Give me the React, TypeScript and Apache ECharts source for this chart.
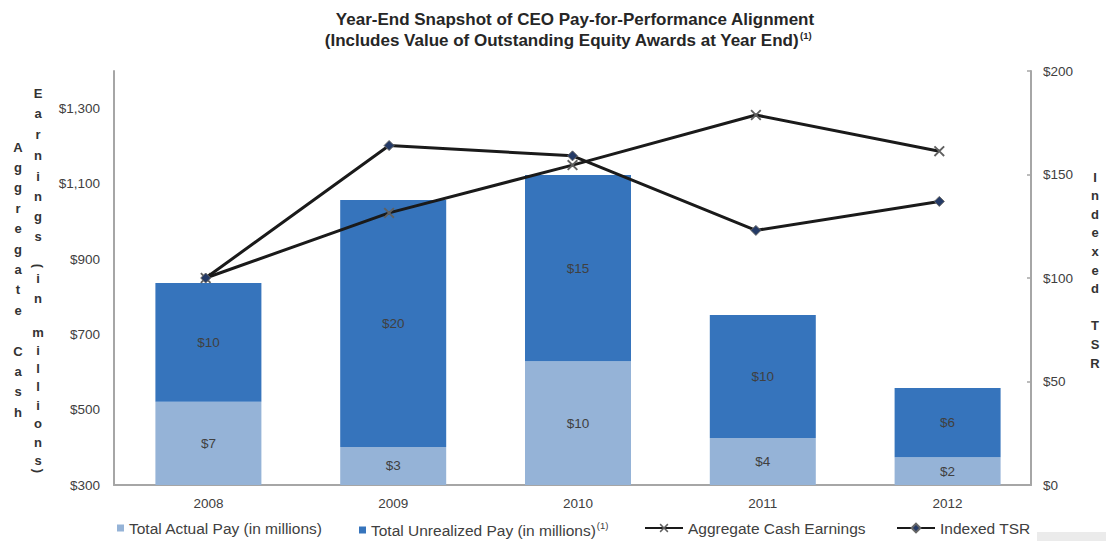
import React, { useEffect, useRef } from "react";
import * as echarts from "echarts";

const years = ["2008", "2009", "2010", "2011", "2012"];
// bar segment heights in left-axis units (the bars sit on the $300 baseline)
const actualPayHeight = [221, 101, 329, 125, 74];
const unrealizedPayHeight = [316, 656, 495, 327, 184];
const actualPayLabels = ["$7", "$3", "$10", "$4", "$2"];
const unrealizedPayLabels = ["$10", "$20", "$15", "$10", "$6"];
const cashEarnings = [850, 1023, 1150, 1283, 1187];
const indexedTSR = [100, 164, 159, 123, 137];

const FONT = '"Liberation Sans", Arial, sans-serif';
const GRAY_AXIS = "#a6a6a6";
const TXT = "#404040";

const crossPath =
  "path://M0,1.2 L1.2,0 L5,3.8 L8.8,0 L10,1.2 L6.2,5 L10,8.8 L8.8,10 L5,6.2 L1.2,10 L0,8.8 L3.8,5 Z";

function vertChars(chars: string[], ys: number[], x: number) {
  return chars.map((c, i) => ({
    type: "text",
    x,
    y: ys[i],
    rotation: c === "(" || c === ")" ? -Math.PI / 2 : 0,
    style: {
      text: c,
      fontFamily: FONT,
      fontSize: 13,
      fontWeight: "bold",
      fill: "#333333",
      align: "center",
      verticalAlign: "middle",
      textAlign: "center",
      textVerticalAlign: "middle",
    },
  }));
}

export default function App() {
  const ref = useRef<HTMLDivElement>(null);
  useEffect(() => {
    if (!ref.current) return;
    const chart = echarts.init(ref.current, undefined, { renderer: "svg" });

    const col1 = "Aggregate Cash".split("");
    const col1Y = col1.map((_, i) => 147 + i * 20.4);
    const col2 = "Earnings(in millions)".split("");
    const col2Y = [93, 113, 134, 155, 176, 196, 216, 236, 266, 278, 298, 315, 332, 350, 368, 386, 405, 423, 442, 460, 471];
    const col3 = "Indexed TSR".split("");
    const col3Y = col3.map((_, i) => 177 + i * 18.6);

    const legendText = { color: TXT, fontSize: 15.5, fontFamily: FONT };

    chart.setOption({
      animation: false,
      backgroundColor: "#ffffff",
      grid: [
        { left: 116, top: 71, width: 924, height: 414, containLabel: false, outerBoundsMode: "none" },
        { left: 114, top: 71, width: 917, height: 414, containLabel: false, outerBoundsMode: "none" },
      ],
      xAxis: [
        {
          type: "category",
          gridIndex: 0,
          data: years,
          axisLine: { show: false },
          axisTick: { show: false },
          axisLabel: { color: TXT, fontSize: 13.5, fontFamily: FONT, margin: 11 },
        },
        {
          type: "category",
          gridIndex: 1,
          data: years,
          axisLine: { show: true, lineStyle: { color: GRAY_AXIS, width: 2 } },
          axisTick: { show: false },
          axisLabel: { show: false },
        },
      ],
      yAxis: [
        { type: "value", gridIndex: 0, min: 0, max: 1100, show: false },
        {
          type: "value",
          gridIndex: 1,
          position: "left",
          min: 300,
          max: 1400,
          interval: 100,
          axisLine: { show: true, lineStyle: { color: GRAY_AXIS, width: 2 } },
          axisTick: { show: false },
          splitLine: { show: false },
          axisLabel: {
            color: TXT,
            fontSize: 13.5,
            fontFamily: FONT,
            margin: 14,
            formatter: (v: number) =>
              (v - 300) % 200 === 0 && v <= 1300 ? "$" + v.toLocaleString("en-US") : "",
          },
        },
        {
          type: "value",
          gridIndex: 1,
          position: "right",
          min: 0,
          max: 200,
          interval: 50,
          axisLine: { show: true, lineStyle: { color: GRAY_AXIS, width: 2 } },
          axisTick: { show: true, inside: true, length: 4, lineStyle: { color: GRAY_AXIS, width: 1.5 } },
          splitLine: { show: false },
          axisLabel: { color: TXT, fontSize: 13.5, fontFamily: FONT, margin: 12, formatter: (v: number) => "$" + v },
        },
      ],
      legend: [
        {
          data: ["Total Actual Pay (in millions)"],
          left: 117,
          top: 520,
          padding: 0,
          icon: "rect",
          itemWidth: 7,
          itemHeight: 7,
          selectedMode: false,
          textStyle: legendText,
        },
        {
          data: ["Total Unrealized Pay (in millions)"],
          left: 359,
          top: 520,
          padding: 0,
          icon: "rect",
          itemWidth: 7,
          itemHeight: 7,
          selectedMode: false,
          formatter: (name: string) => `{n|${name}}{s|(1)}`,
          textStyle: {
            ...legendText,
            rich: {
              n: { ...legendText },
              s: { color: TXT, fontSize: 9.5, fontFamily: FONT, padding: [0, 0, 10, 1] },
            },
          },
        },
        {
          data: ["Aggregate Cash Earnings"],
          left: 644,
          top: 520,
          padding: 0,
          itemWidth: 38,
          itemHeight: 11,
          selectedMode: false,
          textStyle: legendText,
        },
        {
          data: ["Indexed TSR"],
          left: 896,
          top: 520,
          padding: 0,
          itemWidth: 38,
          itemHeight: 11,
          selectedMode: false,
          textStyle: legendText,
        },
      ],
      series: [
        {
          type: "bar",
          name: "Total Actual Pay (in millions)",
          xAxisIndex: 0,
          yAxisIndex: 0,
          stack: "pay",
          data: actualPayHeight,
          barWidth: 106,
          z: 2,
          itemStyle: { color: "#95b3d7" },
          label: {
            show: true,
            position: "inside",
            color: TXT,
            fontSize: 13.5,
            fontFamily: FONT,
            formatter: (p: any) => actualPayLabels[p.dataIndex],
          },
        },
        {
          type: "bar",
          name: "Total Unrealized Pay (in millions)",
          xAxisIndex: 0,
          yAxisIndex: 0,
          stack: "pay",
          data: unrealizedPayHeight,
          barWidth: 106,
          z: 2,
          itemStyle: { color: "#3674bc" },
          label: {
            show: true,
            position: "inside",
            color: TXT,
            fontSize: 13.5,
            fontFamily: FONT,
            formatter: (p: any) => unrealizedPayLabels[p.dataIndex],
          },
        },
        {
          type: "line",
          name: "Aggregate Cash Earnings",
          xAxisIndex: 1,
          yAxisIndex: 1,
          data: cashEarnings,
          symbol: crossPath,
          symbolSize: 11,
          z: 5,
          lineStyle: { color: "#1a1a1a", width: 3 },
          itemStyle: { color: "#606060" },
        },
        {
          type: "line",
          name: "Indexed TSR",
          xAxisIndex: 1,
          yAxisIndex: 2,
          data: indexedTSR,
          symbol: "diamond",
          symbolSize: 10,
          z: 6,
          lineStyle: { color: "#1a1a1a", width: 3 },
          itemStyle: { color: "#243a66", borderColor: "#666666", borderWidth: 1 },
        },
      ],
      graphic: [
        {
          type: "text",
          x: 575,
          y: 19,
          style: {
            text: "Year-End Snapshot of CEO Pay-for-Performance Alignment",
            fontFamily: FONT,
            fontSize: 17,
            fontWeight: "bold",
            fill: "#262626",
            align: "center",
            verticalAlign: "middle",
            textAlign: "center",
            textVerticalAlign: "middle",
          },
        },
        {
          type: "text",
          x: 568,
          y: 40,
          style: {
            text: "{m|(Includes Value of Outstanding Equity Awards at Year End)}{s|(1)}",
            fontFamily: FONT,
            fontSize: 17,
            fontWeight: "bold",
            fill: "#262626",
            align: "center",
            verticalAlign: "middle",
            textAlign: "center",
            textVerticalAlign: "middle",
            rich: {
              m: { fontFamily: FONT, fontSize: 17, fontWeight: "bold", fill: "#262626", color: "#262626" },
              s: { fontFamily: FONT, fontSize: 9.5, fontWeight: "bold", color: "#262626", fill: "#262626", padding: [0, 0, 10, 1] },
            },
          },
        },
        ...vertChars(col1, col1Y, 18),
        ...vertChars(col2, col2Y, 38),
        ...vertChars(col3, col3Y, 1095),
        {
          type: "rect",
          shape: { x: 1037, y: 532, width: 69, height: 9 },
          style: { fill: "#ebebeb" },
        },
      ],
    });

    return () => chart.dispose();
  }, []);

  return (
    <div
      ref={ref}
      style={{ position: "fixed", left: 0, top: 0, width: 1106, height: 541, background: "#fff" }}
    />
  );
}
